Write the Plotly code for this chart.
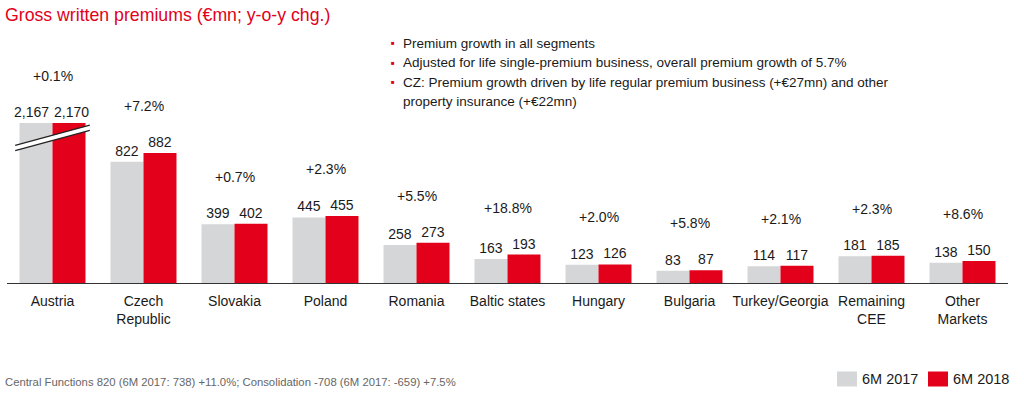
import plotly.graph_objects as go

# ---------------- data ----------------
CATEGORIES = ["Austria", "Czech<br>Republic", "Slovakia", "Poland", "Romania",
              "Baltic states", "Hungary", "Bulgaria", "Turkey/Georgia",
              "Remaining<br>CEE", "Other<br>Markets"]
SERIES_NAMES = ["6M 2017", "6M 2018"]
V2017 = [2167, 822, 399, 445, 258, 163, 123, 83, 114, 181, 138]
V2018 = [2170, 882, 402, 455, 273, 193, 126, 87, 117, 185, 150]
CHANGES = ["+0.1%", "+7.2%", "+0.7%", "+2.3%", "+5.5%", "+18.8%",
           "+2.0%", "+5.8%", "+2.1%", "+2.3%", "+8.6%"]
BULLETS = [
    "Premium growth in all segments",
    "Adjusted for life single-premium business, overall premium growth of 5.7%",
    "CZ: Premium growth driven by life regular premium business (+€27mn) and other",
]
BULLET_CONT = "property insurance (+€22mn)"
TITLE = "Gross written premiums (€mn; y-o-y chg.)"
FOOTNOTE = ("Central Functions 820 (6M 2017: 738) +11.0%; "
            "Consolidation -708 (6M 2017: -659) +7.5%")

# ---------------- style ----------------
W, H = 1024, 397
ML, MR, MT, MB = 7, 16, 30, 114
PLOT_W = W - ML - MR
PLOT_H = H - MT - MB
PX_PER_UNIT = 0.1474
Y_MAX = PLOT_H / PX_PER_UNIT
BREAK_CAP = 1085          # Austria bars are drawn truncated at this height
GRAY = "#D5D6D8"
RED = "#E2001A"
TXT = "#1A1A1A"
FONT = "Liberation Sans, Arial, sans-serif"
COLORS = [GRAY, RED]


def px_x(px):
    return (px - ML) / PLOT_W


def px_y(py):
    return (H - MB - py) / PLOT_H


disp = [[min(v, BREAK_CAP) for v in V2017], [min(v, BREAK_CAP) for v in V2018]]
vals = [V2017, V2018]

fig = go.Figure()
for k in range(2):
    # values above the break are labelled separately (shifted apart) below
    txt = ["" if v > BREAK_CAP else f"{v:,}" for v in vals[k]]
    fig.add_trace(go.Bar(
        name=SERIES_NAMES[k], x=CATEGORIES, y=disp[k],
        marker=dict(color=COLORS[k], line=dict(width=0)),
        text=txt, textposition="outside",
        constraintext="none", cliponaxis=False,
        outsidetextfont=dict(size=14, color=TXT, family=FONT),
        hoverinfo="skip", showlegend=False,
    ))

annotations = []
for i, c in enumerate(CATEGORIES):
    top = max(disp[0][i], disp[1][i])
    annotations.append(dict(
        x=c, y=top, xref="x", yref="y",
        text=CHANGES[i], showarrow=False, yshift=47, yanchor="middle",
        font=dict(size=14, color=TXT, family=FONT)))
    for k, xs in ((0, -21), (1, 19)):
        if vals[k][i] > BREAK_CAP:
            annotations.append(dict(
                x=c, y=disp[k][i], xref="x", yref="y", text=f"{vals[k][i]:,}",
                showarrow=False, yshift=11, xshift=xs, yanchor="middle",
                font=dict(size=14, color=TXT, family=FONT)))

# bullet text block
bullet_y = [43, 62.5, 82]
for txt, yy in zip(BULLETS, bullet_y):
    annotations.append(dict(
        x=px_x(389), y=px_y(yy), xref="paper", yref="paper", text="■",
        showarrow=False, xanchor="left", yanchor="middle",
        font=dict(size=6, color=RED, family=FONT)))
    annotations.append(dict(
        x=px_x(401), y=px_y(yy), xref="paper", yref="paper", text=txt,
        showarrow=False, xanchor="left", yanchor="middle",
        font=dict(size=13.5, color=TXT, family=FONT)))
annotations.append(dict(
    x=px_x(401), y=px_y(101.5), xref="paper", yref="paper", text=BULLET_CONT,
    showarrow=False, xanchor="left", yanchor="middle",
    font=dict(size=13.5, color=TXT, family=FONT)))

annotations.append(dict(
    x=px_x(3), y=px_y(382), xref="paper", yref="paper", text=FOOTNOTE,
    showarrow=False, xanchor="left", yanchor="middle",
    font=dict(size=11.3, color="#666666", family=FONT)))

# axis-break marks on Austria
bx0, bx1 = -0.41, 0.41
by0, by1 = BREAK_CAP - 169, BREAK_CAP - 32
off = 2.6 / PX_PER_UNIT
shapes = [
    dict(type="line", xref="x", yref="y", x0=bx0, x1=bx1, y0=by0, y1=by1,
         line=dict(color="white", width=5), layer="above"),
    dict(type="line", xref="x", yref="y", x0=bx0, x1=bx1, y0=by0 + off, y1=by1 + off,
         line=dict(color="#222222", width=1.2), layer="above"),
    dict(type="line", xref="x", yref="y", x0=bx0, x1=bx1, y0=by0 - off, y1=by1 - off,
         line=dict(color="#222222", width=1.2), layer="above"),
]

# legend (swatch + label per series)
LEG_Y = 379
for k, (sx, tx) in enumerate(((837, 860), (928, 951))):
    shapes.append(dict(type="rect", xref="paper", yref="paper",
                       x0=px_x(sx), x1=px_x(sx + 20),
                       y0=px_y(LEG_Y - 7.5), y1=px_y(LEG_Y + 7.5),
                       fillcolor=COLORS[k], line=dict(width=0)))
    annotations.append(dict(
        x=px_x(tx), y=px_y(LEG_Y), xref="paper", yref="paper",
        text=SERIES_NAMES[k], showarrow=False, xanchor="left", yanchor="middle",
        font=dict(size=14.5, color=TXT, family=FONT)))

fig.update_layout(
    width=W, height=H, autosize=False,
    margin=dict(l=ML, r=MR, t=MT, b=MB, pad=0, autoexpand=False),
    paper_bgcolor="white", plot_bgcolor="white",
    font=dict(family=FONT, color=TXT, size=14),
    barmode="group", bargap=0.275, bargroupgap=0,
    title=dict(text=TITLE, x=5 / W, xanchor="left", xref="container",
               y=1 - 15 / H, yanchor="middle", yref="container",
               font=dict(size=17.7, color=RED, family=FONT)),
    xaxis=dict(showline=True, linecolor="#333333", linewidth=1, ticks="",
               showgrid=False, zeroline=False, ticklabelstandoff=5,
               tickfont=dict(size=14, color=TXT, family=FONT)),
    yaxis=dict(range=[0, Y_MAX], visible=False, showgrid=False, zeroline=False),
    showlegend=False, hovermode=False,
    annotations=annotations, shapes=shapes,
)

fig.write_html("out.html",
               config={"displayModeBar": False, "staticPlot": True},
               post_script="document.body.style.margin='0';"
                           "document.body.style.overflow='hidden';")
